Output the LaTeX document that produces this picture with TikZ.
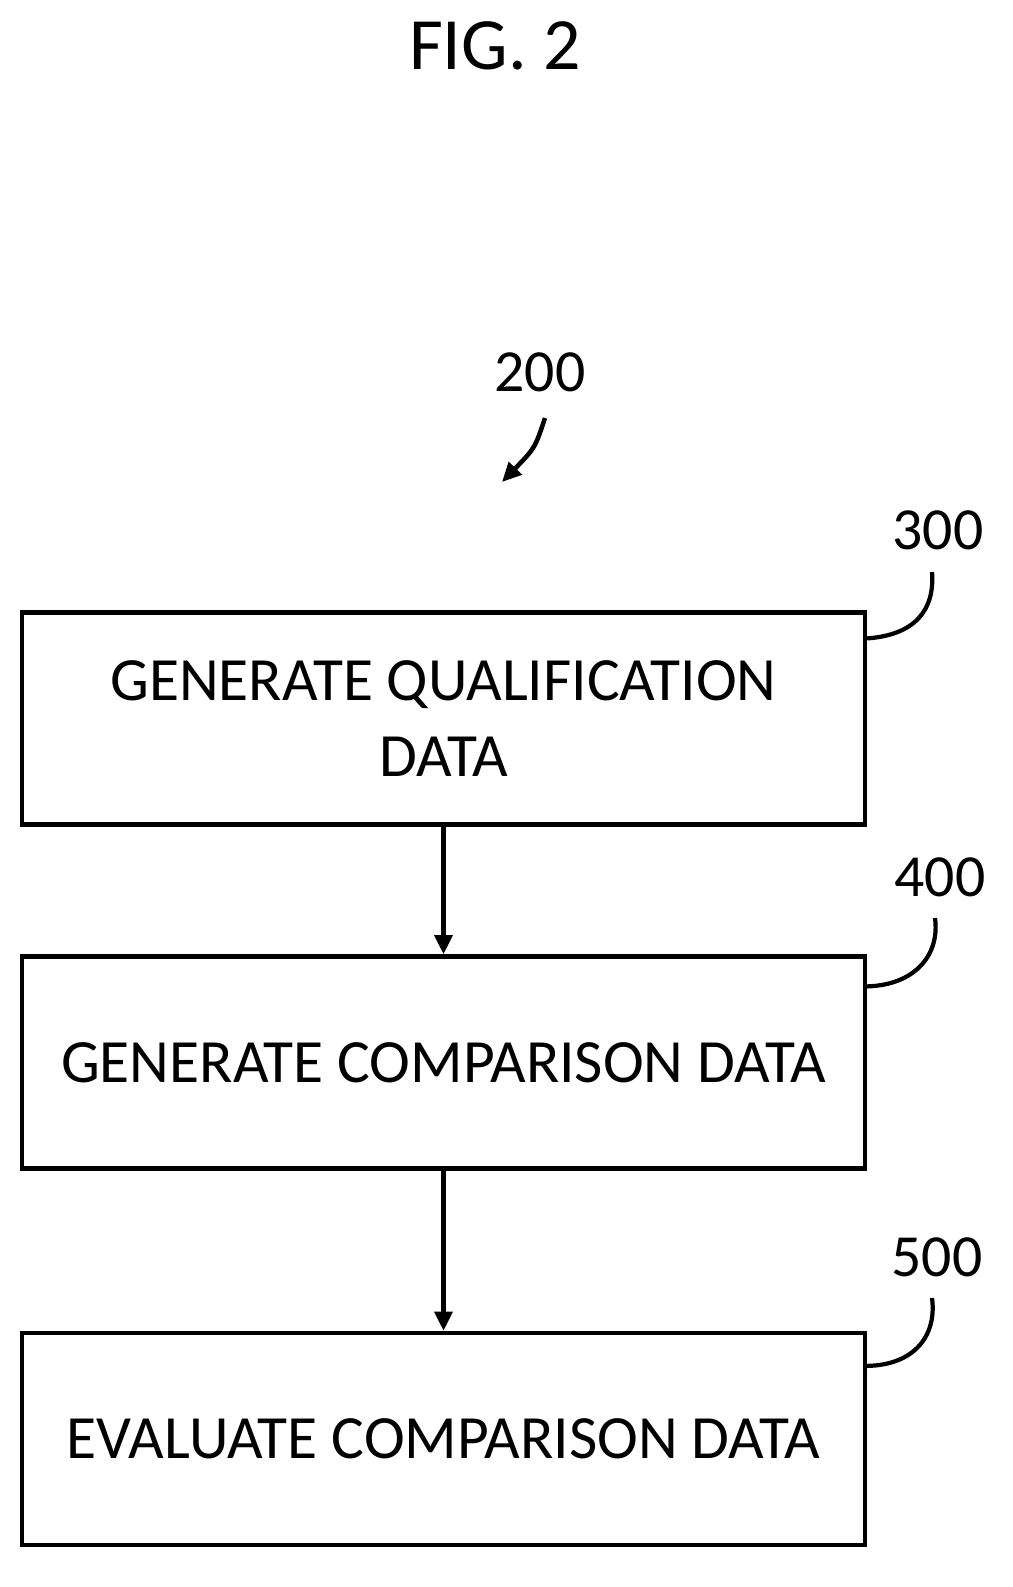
\documentclass[tikz,border=0pt]{standalone}
\usepackage{fontspec}
\setmainfont{Carlito}
\usetikzlibrary{arrows.meta,positioning}
\tikzset{step box/.style={draw,line width=2.4pt,minimum width=843\px,minimum height=212\px,inner sep=0pt,align=center,font=\fontsize{35}{43}\selectfont},
         ref label/.style={font=\fontsize{34}{40}\selectfont,inner sep=0pt},
         flow arrow/.style={-{Triangle[length=11pt,width=10pt]},line width=2.6pt},
         leader/.style={line width=2.4pt}
}
\newlength{\px}
\setlength{\px}{0.02cm}
\begin{document}
\begin{tikzpicture}[x=0.02cm,y=-0.02cm]
\useasboundingbox (0,0) rectangle (1013,1587);
\node[font=\fontsize{42}{50}\selectfont] (fig) at (495,46) {FIG. 2};
\node[ref label] (l200) at (540,372) {200};
\coordinate (a200) at (502,482);
\draw[flow arrow] (545,418) .. controls (535,448) .. (a200);
% boxes
\node[step box] (s300) at (443.5,718.5) {GENERATE QUALIFICATION\\DATA};
\node[step box] (s400) at (443.5,1062.5) {GENERATE COMPARISON DATA};
\node[step box] (s500) at (443.5,1439) {EVALUATE COMPARISON DATA};
% reference labels
\node[ref label] (l300) at (938,530) {300};
\node[ref label] (l400) at (940,877) {400};
\node[ref label] (l500) at (937,1257) {500};
\draw[leader] (s300.north east) ++(0,28) .. controls (915,635) and (935,610) .. (932,572);
\draw[leader] (s400.north east) ++(0,32) .. controls (915,985) and (940,955) .. (935,918);
\draw[leader] (s500.north east) ++(0,35) .. controls (915,1365) and (937,1335) .. (932,1298);
% flow
\draw[flow arrow] (s300) -- (s400);
\draw[flow arrow] (s400) -- (s500);
\end{tikzpicture}
\end{document}
